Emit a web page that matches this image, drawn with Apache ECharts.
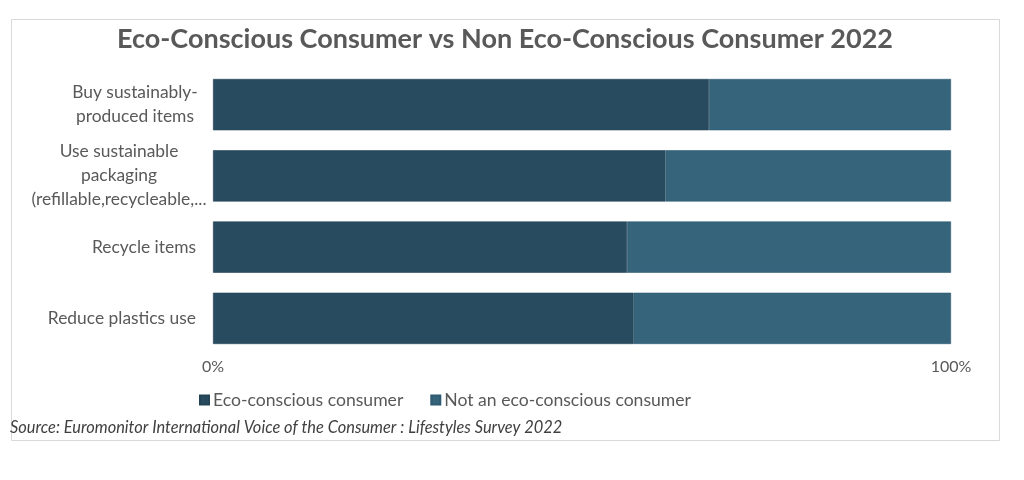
<!DOCTYPE html>
<html>
<head>
<meta charset="utf-8">
<script src="https://cdn.jsdelivr.net/npm/echarts@6/dist/echarts.min.js"></script>
<style>
html,body{margin:0;padding:0;background:#fff;}
#chart{width:1024px;height:480px;}
</style>
</head>
<body>
<div id="chart"></div>
<script>
var categories = [
  "Buy sustainably-produced items",
  "Use sustainable packaging (refillable,recycleable,...",
  "Recycle items",
  "Reduce plastics use"
];
var ecoConscious = [67.2, 61.3, 56.1, 57.0];
var notEcoConscious = [32.8, 38.7, 43.9, 43.0];
var seriesNames = ["Eco-conscious consumer", "Not an eco-conscious consumer"];
var xTicks = ["0%", "100%"];

var labelLines = {
  "Buy sustainably-produced items": "{b1|Buy sustainably-}\n{b1|produced items}",
  "Use sustainable packaging (refillable,recycleable,...": "{b2|Use sustainable}\n{b2|packaging}\n{b2|(refillable,recycleable,...}"
};

var chart = echarts.init(document.getElementById('chart'));
var font = 'Lato, "Noto Sans", sans-serif';
chart.setOption({
  animation: false,
  backgroundColor: '#ffffff',
  title: {
    text: 'Eco-Conscious Consumer vs Non Eco-Conscious Consumer 2022',
    left: 500, top: 21, textAlign: 'center',
    textStyle: { fontFamily: font, fontSize: 27, fontWeight: 'bold', color: '#595959' }
  },
  graphic: [
    { type: 'rect', shape: { x: 11.5, y: 19.5, width: 988, height: 421 },
      style: { fill: 'none', stroke: '#d9d9d9', lineWidth: 1 }, z: -1 },
    { type: 'text', left: 10, top: 420,
      style: { text: 'Source: Euromonitor International Voice of the Consumer : Lifestyles Survey 2022',
        font: 'italic 16.4px ' + font, fill: '#404040' } }
  ],
  legend: {
    top: 386, left: 194,
    itemWidth: 9, itemHeight: 9, itemGap: 27,
    icon: 'rect',
    textStyle: { fontFamily: font, fontSize: 17.6, color: '#595959', padding: [0,0,0,-1] },
    data: seriesNames
  },
  grid: { left: 213, right: 73, top: 69, bottom: 126, containLabel: false },
  xAxis: {
    type: 'value', min: 0, max: 100, interval: 100,
    axisLine: { show: false }, axisTick: { show: false }, splitLine: { show: false },
    axisLabel: {
      margin: 5, fontFamily: font, fontSize: 16, color: '#595959',
      formatter: function (v) { return v === 0 ? xTicks[0] : xTicks[1]; }
    }
  },
  yAxis: {
    type: 'category', data: categories, inverse: true,
    axisLine: { show: false }, axisTick: { show: false },
    axisLabel: {
      margin: 17, fontFamily: font, fontSize: 17.4, color: '#595959', align: 'right', lineHeight: 24,
      formatter: function (v) { return labelLines[v] || v; },
      rich: {
        b1: { width: 122, align: 'center', fontFamily: font, fontSize: 17.4, color: '#595959', lineHeight: 24 },
        b2: { width: 154, align: 'center', fontFamily: font, fontSize: 17.4, color: '#595959', lineHeight: 24 }
      }
    }
  },
  series: [
    { name: seriesNames[0], type: 'bar', stack: 'a', data: ecoConscious, barCategoryGap: '28%',
      itemStyle: { color: '#284b5f', borderColor: '#234456', borderWidth: 0.6 } },
    { name: seriesNames[1], type: 'bar', stack: 'a', data: notEcoConscious, barCategoryGap: '28%',
      itemStyle: { color: '#35647b', borderColor: '#2f5b72', borderWidth: 0.6 } }
  ]
});
</script>
</body>
</html>
